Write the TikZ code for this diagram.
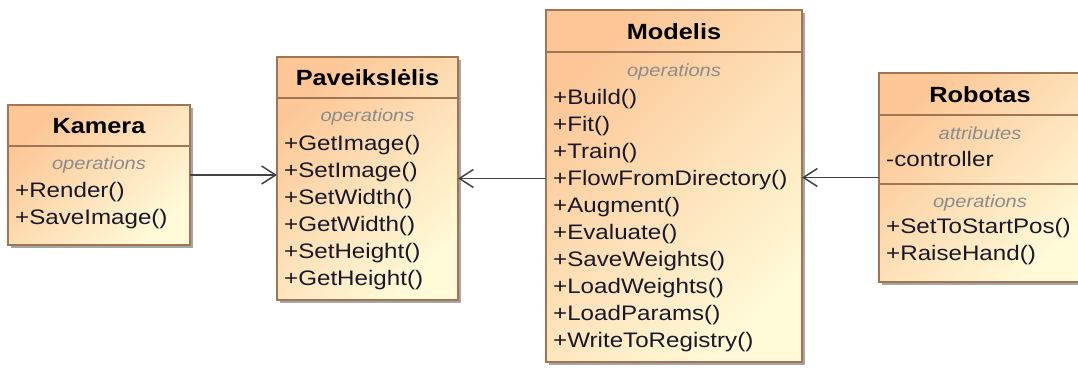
\documentclass[tikz,border=0pt]{standalone}
\usepackage{fontspec}
\setmainfont{Liberation Sans}[FakeStretch=1.15]
\usetikzlibrary{arrows.meta,shadows}
\definecolor{clstop}{RGB}{252,198,150}
\definecolor{clsbot}{RGB}{255,250,216}
\definecolor{clsline}{RGB}{158,118,84}
\definecolor{clstext}{RGB}{24,24,40}
\definecolor{clsgray}{RGB}{140,140,140}
\definecolor{linkc}{RGB}{66,66,66}
\tikzset{
  cls/.style={draw=clsline, line width=1.5pt, top color=clstop, bottom color=clsbot,
              shading angle=45, inner sep=0pt, outer sep=0pt, anchor=north west,
              drop shadow={shadow xshift=3pt, shadow yshift=-3pt, fill=black!35, opacity=1}},
  sepl/.style={clsline, line width=1.5pt},
  cname/.style={anchor=base, inner sep=0pt, font=\fontsize{22}{26}\selectfont\bfseries, text=black},
  ops/.style={anchor=base, inner sep=0pt, font=\fontsize{17.5}{21}\selectfont\itshape, text=clsgray},
  mem/.style={anchor=base west, inner sep=0pt, font=\fontsize{21}{27}\selectfont, text=clstext},
  assoc/.style={-{Straight Barb[length=14pt, width=18pt, line width=1.5pt]}, linkc, line width=1.5pt},
}

\begin{document}
\begin{tikzpicture}[x=1pt, y=-1pt]
  \useasboundingbox (0,0) rectangle (1078,367);
  \clip (0,0) rectangle (1078,367);
  % class boxes
  \node[cls, minimum width=182pt, minimum height=140pt] (kam) at (8,105) {};
  \node[cls, minimum width=181pt, minimum height=243pt] (pav) at (277,57) {};
  \node[cls, minimum width=256pt, minimum height=352pt] (mod) at (546,10) {};
  \node[cls, minimum width=206pt, minimum height=209pt] (rob) at (879,73) {};
  \draw[sepl] (kam.west |- 0,146) -- (kam.east |- 0,146);
  \draw[sepl] (pav.west |- 0,98) -- (pav.east |- 0,98);
  \draw[sepl] (mod.west |- 0,52) -- (mod.east |- 0,52);
  \draw[sepl] (rob.west |- 0,115) -- (rob.east |- 0,115);
  \draw[sepl] (rob.west |- 0,184) -- (rob.east |- 0,184);

  % Kamera
  \node[cname] (kamN) at (99,133) {Kamera};
  \node[ops] (kamO) at (99,169) {operations};
  \foreach \m [count=\i from 0] in {+Render(),+SaveImage()}
    \node[mem] (kam-\i) at (15,{197.5+27*\i}) {\m};

  % Paveikslelis
  \node[cname] (pavN) at (367.5,85) {Paveikslėlis};
  \node[ops] (pavO) at (367.5,121) {operations};
  \foreach \m [count=\i from 0] in {+GetImage(),+SetImage(),+SetWidth(),+GetWidth(),+SetHeight(),+GetHeight()}
    \node[mem] (pav-\i) at (284,{150.5+27*\i}) {\m};

  % Modelis
  \node[cname] (modN) at (674,39) {Modelis};
  \node[ops] (modO) at (674,76) {operations};
  \foreach \m [count=\i from 0] in {+Build(),+Fit(),+Train(),+FlowFromDirectory(),+Augment(),+Evaluate(),
      +SaveWeights(),+LoadWeights(),+LoadParams(),+WriteToRegistry()}
    \node[mem] (mod-\i) at (553,{104.5+27*\i}) {\m};

  % Robotas
  \node[cname] (robN) at (980,102) {Robotas};
  \node[ops] (robA) at (980,139) {attributes};
  \node[mem] (rob-a) at (886,166) {-controller};
  \node[ops] (robO) at (980,207) {operations};
  \foreach \m [count=\i from 0] in {+SetToStartPos(),+RaiseHand()}
    \node[mem] (rob-\i) at (886,{233.5+27*\i}) {\m};

  % links
  \draw[assoc] (kam.east) -- (pav.west |- kam.east);
  \draw[assoc] (mod.west |- pav.east) -- (pav.east);
  \draw[assoc] (rob.west) -- (mod.east |- rob.west);
\end{tikzpicture}
\end{document}
